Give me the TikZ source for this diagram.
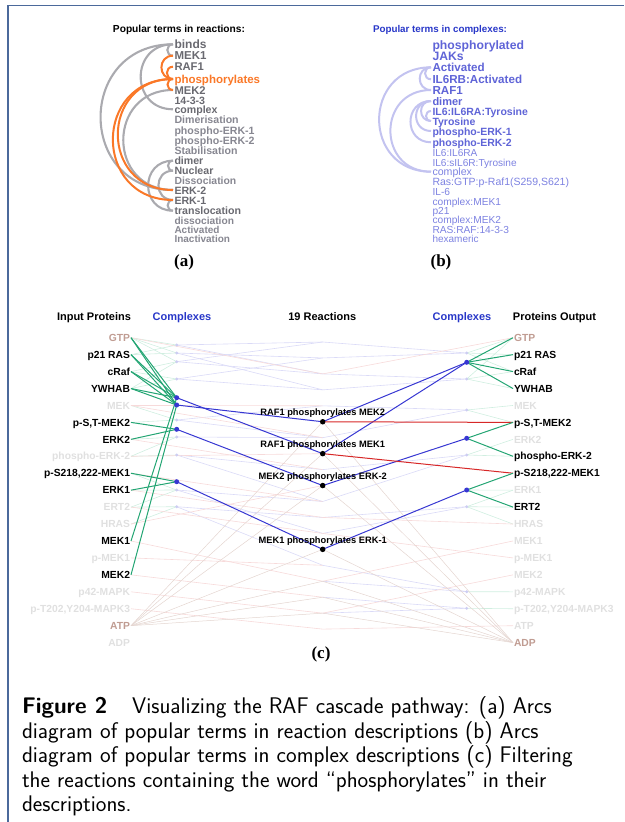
\documentclass[tikz,border=0pt]{standalone}
\usepackage{fontspec}
\newfontfamily\arialf{Liberation Sans}
\newfontfamily\timesf{Liberation Serif}
\definecolor{frameblue}{RGB}{75,105,155}
\definecolor{termdark}{RGB}{105,105,112}
\definecolor{termlight}{RGB}{135,135,145}
\definecolor{arcgray}{RGB}{170,170,175}
\definecolor{orng}{RGB}{250,120,40}
\definecolor{btext}{RGB}{95,100,215}
\definecolor{blight}{RGB}{125,130,225}
\definecolor{barc}{RGB}{195,195,240}
\definecolor{titleblue}{RGB}{40,55,200}
\definecolor{hlgreen}{RGB}{35,165,115}
\definecolor{hlblue}{RGB}{55,55,210}
\definecolor{hlred}{RGB}{215,40,40}
\definecolor{fgreen}{RGB}{208,238,224}
\definecolor{fblue}{RGB}{218,218,247}
\definecolor{fred}{RGB}{247,218,218}
\definecolor{fbrown}{RGB}{228,213,208}
\definecolor{pinkc}{RGB}{192,156,146}
\definecolor{faintc}{RGB}{224,224,224}
\definecolor{dotfaint}{RGB}{205,205,242}
\begin{document}
\begin{tikzpicture}[x=1pt,y=-1pt,
  every node/.style={inner sep=0pt,outer sep=0pt},
  terma/.style={anchor=west,text height=8pt,text depth=0pt,outer sep=1.5pt,
     font=\arialf\bfseries\fontsize{#1}{#1}\selectfont},
  termb/.style={anchor=west,text height=8pt,text depth=0pt,outer sep=1.5pt,
     font=\arialf\fontsize{#1}{#1}\selectfont},
  prot/.style={text height=7.4pt,text depth=0pt,outer sep=1pt,
     font=\arialf\bfseries\fontsize{10.3}{10.3}\selectfont},
  head/.style={anchor=base,font=\arialf\bfseries\fontsize{11}{11}\selectfont},
  rlabel/.style={anchor=center,font=\arialf\bfseries\fontsize{9.3}{9.3}\selectfont},
  panlab/.style={anchor=center,font=\timesf\bfseries\fontsize{17}{17}\selectfont},
  capline/.style={anchor=base west,font=\sffamily\fontsize{22.6}{24}\selectfont},
  garc/.style={draw=arcgray,line width=2.1pt},
  oarc/.style={draw=orng,line width=2pt},
  barcs/.style={draw=barc,line width=2pt},
  fg/.style={draw=fgreen,line width=0.6pt},
  fb/.style={draw=fblue,line width=0.6pt},
  fr/.style={draw=fred,line width=0.6pt},
  fbr/.style={draw=fbrown,line width=0.5pt},
  hg/.style={draw=hlgreen,line width=1pt},
  hb/.style={draw=hlblue,line width=1pt},
  hr/.style={draw=hlred,line width=1pt},
  cdot/.style={circle,fill=dotfaint,minimum size=3.2pt},
  hdot/.style={circle,fill=hlblue,minimum size=5pt},
  rdot/.style={circle,fill=black,minimum size=5.5pt}
]
\useasboundingbox (0,0) rectangle (624,822);
% frame
\draw[frameblue,line width=1.5pt] (8,822) -- (8,5.5) -- (624,5.5);

% ================= panel (a) =================
\node[anchor=center,font=\arialf\bfseries\fontsize{10.2}{10.2}\selectfont] (atitle) at (179,30) {Popular terms in reactions:};
\foreach \n/\y/\s/\cc/\tt in {
  a1/44.3/12/termdark/binds, a2/55.7/11.5/termdark/MEK1, a3/66.7/11.2/termdark/RAF1,
  a4/79/11.5/orng/phosphorylates, a5/90/11.2/termdark/MEK2, a6/100/10.6/termdark/14-3-3,
  a7/109.3/10.6/termdark/complex, a8/119.3/10.6/termlight/Dimerisation,
  a9/130/10.6/termlight/phospho-ERK-1, a10/140.7/10.6/termlight/phospho-ERK-2,
  a11/150/10.6/termlight/Stabilisation, a12/160.7/10.6/termdark/dimer,
  a13/170.7/10.6/termdark/Nuclear, a14/180/10.4/termlight/Dissociation,
  a15/190/10.6/termdark/ERK-2, a16/200/10.6/termdark/ERK-1,
  a17/210.7/10.6/termdark/translocation, a18/220/10.2/termlight/dissociation,
  a19/229.3/10/termlight/Activated, a20/238.3/10/termlight/Inactivation}
  { \node[terma=\s,text=\cc] (\n) at (173,\y) {\tt}; }
% gray arcs
\foreach \p/\q in {a1/a15, a1/a7, a5/a15, a1/a2, a12/a17, a13/a16, a12/a13, a16/a17}
  { \draw[garc] (\p.west) to[out=180,in=180,looseness=1.7] (\q.west); }
% orange arcs
\foreach \p/\q in {a4/a16, a4/a15, a2/a4, a3/a4, a4/a5}
  { \draw[oarc] (\p.west) to[out=180,in=180,looseness=1.7] (\q.west); }
\node[panlab] (alab) at (184,262) {(a)};

% ================= panel (b) =================
\node[anchor=center,font=\arialf\bfseries\fontsize{9.8}{9.8}\selectfont,text=titleblue] (btitle) at (440,30) {Popular terms in complexes:};
\foreach \n/\y/\s/\tt in {
  b1/45/12.2/phosphorylated, b2/56/12.2/JAKs, b3/67.3/11.6/Activated,
  b4/79.3/11.6/IL6RB:Activated, b5/90/11.6/RAF1, b6/101/11/dimer,
  b7/111/10.5/IL6:IL6RA:Tyrosine, b8/121/10.5/Tyrosine, b9/131/10.5/phospho-ERK-1,
  b10/142.3/10.5/phospho-ERK-2}
  { \node[terma=\s,text=btext] (\n) at (431,\y) {\tt}; }
\foreach \n/\y/\s/\tt in {
  b11/152.3/10.1/IL6:IL6RA, b12/162.3/10.1/IL6:sIL6R:Tyrosine, b13/171.7/10.6/complex,
  b14/181.7/10.5/{Ras:GTP:p-Raf1(S259,S621)}, b15/191/10.2/IL-6, b16/201/10.2/complex:MEK1,
  b17/210.3/10.2/p21, b18/219.7/10.2/complex:MEK2, b19/229/10.2/RAS:RAF:14-3-3,
  b20/238.3/10/hexameric}
  { \node[termb=\s,text=blight] (\n) at (431,\y) {\tt}; }
\foreach \p/\q in {b3/b13, b5/b13, b3/b5, b3/b4, b6/b10, b6/b9, b6/b8, b7/b8}
  { \draw[barcs] (\p.west) to[out=180,in=180,looseness=1.7] (\q.west); }
\node[panlab] (blab) at (441,262) {(b)};

% ================= panel (c) =================
\node[head] (h1) at (94,320) {Input Proteins};
\node[head,text=titleblue] (h2) at (182,320) {Complexes};
\node[head] (h3) at (322.3,320) {19 Reactions};
\node[head,text=titleblue] (h4) at (462,320) {Complexes};
\node[head] (h5) at (554.5,320) {Proteins Output};

% reactions (coordinates)
\foreach \k in {0,...,18} { \coordinate (R\k) at (322.7,{342+15.95*\k}); }

% left complexes
\foreach \n/\y in {CLa/345, CLb/353, CLc/361.7, CLd/379, CLe/397.7, CLf/405, CLg/420,
  CLh/429.3, CLi/437, CLj/455, CLk/481.7, CLl/490, CLm/506.7}
  { \coordinate (\n) at (176.7,\y); }
% right complexes
\foreach \n/\y in {CRa/353, CRb/362.3, CRc/379, CRd/410, CRe/438.3, CRf/455, CRg/490,
  CRh/506.7, CRi/591.7, CRj/608.3}
  { \coordinate (\n) at (466.7,\y); }

% protein nodes
\foreach \ii/\tt/\cc in {1/GTP/pinkc, 2/p21 RAS/black, 3/cRaf/black, 4/YWHAB/black,
  5/MEK/faintc, 6/{p-S,T-MEK2}/black, 7/ERK2/black, 8/phospho-ERK-2/faintc,
  9/{p-S218,222-MEK1}/black, 10/ERK1/black, 11/ERT2/faintc, 12/HRAS/faintc,
  13/MEK1/black, 14/p-MEK1/faintc, 15/MEK2/black, 16/p42-MAPK/faintc,
  17/{p-T202,Y204-MAPK3}/faintc, 18/ATP/pinkc, 19/ADP/faintc}
  { \node[prot,anchor=east,text=\cc] (L\ii) at (131,{337.7+16.94*(\ii-1)}) {\tt}; }
\foreach \ii/\tt/\cc in {1/GTP/pinkc, 2/p21 RAS/black, 3/cRaf/black, 4/YWHAB/black,
  5/MEK/faintc, 6/{p-S,T-MEK2}/black, 7/ERK2/faintc, 8/phospho-ERK-2/black,
  9/{p-S218,222-MEK1}/black, 10/ERK1/faintc, 11/ERT2/black, 12/HRAS/faintc,
  13/MEK1/faintc, 14/p-MEK1/faintc, 15/MEK2/faintc, 16/p42-MAPK/faintc,
  17/{p-T202,Y204-MAPK3}/faintc, 18/ATP/faintc, 19/ADP/pinkc}
  { \node[prot,anchor=west,text=\cc] (Q\ii) at (513,{337.7+16.94*(\ii-1)}) {\tt}; }

% ---- faint background connectors ----
\foreach \p/\q in {L1/CLa, L1/CLb, L1/CLc, L2/CLa, L2/CLb, L3/CLc, L3/CLd, L4/CLd, L4/CLc,
  L5/CLg, L6/CLg, L7/CLi, L8/CLj, L8/CLi, L9/CLl, L10/CLl, L11/CLm, L11/CLl, L12/CLm}
  { \draw[fg] (\p.east) -- (\q); }
\foreach \p/\q in {CLa/R0, CLa/R2, CLb/R1, CLb/R3, CLc/R0, CLc/R2, CLd/R1, CLd/R3,
  CLg/R4, CLg/R6, CLi/R6, CLj/R8, CLj/R10, CLl/R10, CLl/R12, CLm/R11, CLm/R14}
  { \draw[fb] (\p) -- (\q); }
\foreach \p/\q in {L1/R2, L5/R4, L5/R6, L7/R8, L8/R7, L9/R10, L10/R11, L11/R12, L12/R9,
  L13/R15, L14/R14, L15/R16, L16/R17, L17/R18}
  { \draw[fr] (\p.east) -- (\q); }
\foreach \q in {R5, R7, R9, R13, R15, R16, R17}
  { \draw[fbr] (L18.east) -- (\q); }
\foreach \p/\q in {R0/CRa, R1/CRa, R2/CRc, R3/CRc, R4/CRd, R6/CRd, R8/CRf, R10/CRf,
  R11/CRh, R12/CRh, R14/CRi, R15/CRi, R16/CRj, R17/CRj}
  { \draw[fb] (\p) -- (\q); }
\foreach \p/\q in {CRa/Q1, CRa/Q2, CRa/Q3, CRc/Q3, CRc/Q4, CRc/Q1, CRd/Q5, CRd/Q6,
  CRf/Q7, CRf/Q8, CRh/Q10, CRh/Q12, CRh/Q11, CRi/Q16, CRj/Q17, CRg/Q10}
  { \draw[fg] (\p) -- (\q.west); }
\foreach \p/\q in {R12/Q14, R15/Q13, R17/Q15, R11/Q12, R2/Q1, R18/Q18}
  { \draw[fr] (\p) -- (\q.west); }
\foreach \p in {R5, R7, R9, R13, R15, R16, R17}
  { \draw[fbr] (\p) -- (Q19.west); }

% ---- highlighted connectors ----
\foreach \p in {L1, L2, L3, L4}
  { \draw[hg] (\p.east) -- (CLe); \draw[hg] (\p.east) -- (CLf); }
\draw[hg] (L13.east) -- (CLe);
\draw[hg] (L15.east) -- (CLf);
\draw[hg] (L6.east) -- (CLh);
\draw[hg] (L7.east) -- (CLh);
\draw[hg] (L9.east) -- (CLk);
\draw[hg] (L10.east) -- (CLk);
\draw[hb] (CLf) -- (R5);
\draw[hb] (CLe) -- (R7);
\draw[hb] (CLh) -- (R9);
\draw[hb] (CLk) -- (R13);
\draw[hb] (R5) -- (CRb);
\draw[hb] (R7) -- (CRb);
\draw[hb] (R9) -- (CRe);
\draw[hb] (R13) -- (CRg);
\draw[hr] (R5) -- (Q6.west);
\draw[hr] (R7) -- (Q9.west);
\foreach \q in {Q1, Q2, Q3, Q4}
  { \draw[hg] (CRb) -- (\q.west); }
\draw[hg] (CRe) -- (Q6.west);
\draw[hg] (CRe) -- (Q8.west);
\draw[hg] (CRg) -- (Q9.west);
\draw[hg] (CRg) -- (Q11.west);

% ---- dots ----
\foreach \n in {CLa, CLb, CLc, CLd, CLg, CLi, CLj, CLl, CLm, CRa, CRc, CRd, CRf, CRh, CRi, CRj}
  { \node[cdot] (D\n) at (\n) {}; }
\foreach \n in {CLe, CLf, CLh, CLk, CRb, CRe, CRg}
  { \node[hdot] (D\n) at (\n) {}; }
\foreach \k in {5, 7, 9, 13}
  { \node[rdot] (DR\k) at (R\k) {}; }

% reaction labels
\node[rlabel] (rl5) at ([yshift=8.7pt]R5) {RAF1 phosphorylates MEK2};
\node[rlabel] (rl7) at ([yshift=8.7pt]R7) {RAF1 phosphorylates MEK1};
\node[rlabel] (rl9) at ([yshift=8.7pt]R9) {MEK2 phosphorylates ERK-2};
\node[rlabel] (rl13) at ([yshift=8.7pt]R13) {MEK1 phosphorylates ERK-1};

\node[panlab] (clab) at (321,654) {(c)};

% ================= caption =================
\node[capline] (cap1) at (22,713.5) {\textbf{Figure 2}\hspace{1.1em}Visualizing the RAF cascade pathway: (a) Arcs};
\node[capline] (cap2) at (22,738) {diagram of popular terms in reaction descriptions (b) Arcs};
\node[capline] (cap3) at (22,762.5) {diagram of popular terms in complex descriptions (c) Filtering};
\node[capline] (cap4) at (22,787) {the reactions containing the word “phosphorylates” in their};
\node[capline] (cap5) at (22,811.5) {descriptions.};
\end{tikzpicture}
\end{document}
